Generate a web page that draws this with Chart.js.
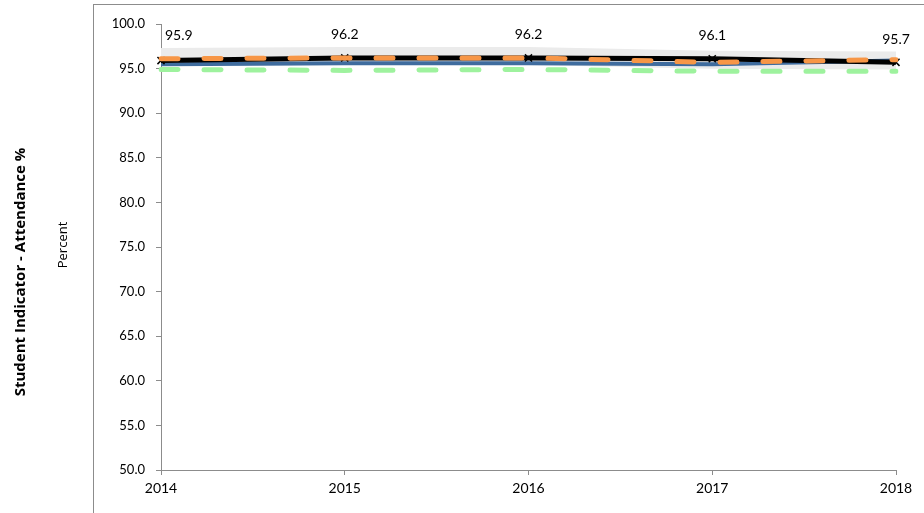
<!DOCTYPE html>
<html>
<head>
<meta charset="utf-8">
<title>Student Indicator - Attendance %</title>
<script src="https://cdn.jsdelivr.net/npm/chart.js@4.4.1/dist/chart.umd.min.js"></script>
<style>
  html, body { margin: 0; padding: 0; background: #ffffff; }
  #wrap { width: 924px; height: 513px; position: relative; }
</style>
</head>
<body>
<div id="wrap"><canvas id="chart" width="924" height="513"></canvas></div>
<script>
// School years on the horizontal axis
const years = ['2014', '2015', '2016', '2017', '2018'];

// Attendance rates (percent)
const schoolRate   = [95.9, 96.2, 96.2, 96.1, 95.7];
const districtRate = [95.5, 95.6, 95.6, 95.5, 95.9];
const rangeBand    = [96.3, 96.4, 96.4, 96.0, 95.9];
const peerRate     = [96.1, 96.2, 96.2, 95.7, 96.0];
const stateRate    = [94.9, 94.8, 94.9, 94.7, 94.7];

// Value axis
const yMin = 50;
const yMax = 100;
const yStep = 5;

const FONT = "Lato, 'Open Sans', 'Liberation Sans', sans-serif";

// Frame, axis titles and value labels for the school line
const decorations = {
  id: 'decorations',
  beforeDraw(chart) {
    const ctx = chart.ctx;
    ctx.save();
    ctx.fillStyle = '#ffffff';
    ctx.fillRect(0, 0, chart.width, chart.height);
    ctx.strokeStyle = '#8c8c8c';
    ctx.lineWidth = 1;
    ctx.strokeRect(93.5, 4.5, 1000, 1000);
    ctx.restore();
  },
  afterDraw(chart) {
    const ctx = chart.ctx;
    ctx.save();
    ctx.fillStyle = '#000000';
    ctx.textAlign = 'center';
    ctx.textBaseline = 'middle';

    ctx.save();
    ctx.translate(21, 272);
    ctx.rotate(-Math.PI / 2);
    ctx.font = "bold 15px 'Open Sans', Lato, sans-serif";
    ctx.fillText('Student Indicator - Attendance %', 0, 0);
    ctx.restore();

    ctx.save();
    ctx.translate(63, 245);
    ctx.rotate(-Math.PI / 2);
    ctx.font = "13px 'Open Sans', Lato, sans-serif";
    ctx.fillText('Percent', 0, 0);
    ctx.restore();

    // value labels above each school point
    const meta = chart.getDatasetMeta(0);
    ctx.font = "14px " + FONT;
    meta.data.forEach((pt, i) => {
      const txt = schoolRate[i].toFixed(1);
      if (i === 0) {
        ctx.textAlign = 'left';
        ctx.fillText(txt, pt.x + 4, pt.y - 25);
      } else {
        ctx.textAlign = 'center';
        ctx.fillText(txt, pt.x, pt.y - 23);
      }
    });
    ctx.restore();
  }
};

new Chart(document.getElementById('chart'), {
  type: 'line',
  data: {
    labels: years,
    datasets: [
      {
        label: 'School',
        data: schoolRate,
        borderColor: '#000000',
        backgroundColor: '#000000',
        borderWidth: 5,
        pointStyle: 'crossRot',
        pointRadius: 5,
        pointBorderWidth: 1.5,
        pointBorderColor: '#000000',
        tension: 0,
        order: 3
      },
      {
        label: 'District',
        data: districtRate,
        borderColor: '#3f6c9e',
        borderWidth: 4,
        pointRadius: 0,
        tension: 0,
        order: 4
      },
      {
        label: 'Range',
        data: rangeBand,
        borderColor: '#ebebeb',
        borderWidth: 18,
        borderCapStyle: 'butt',
        pointRadius: 0,
        tension: 0,
        order: 5
      },
      {
        label: 'Peer',
        data: peerRate,
        borderColor: '#f79646',
        borderWidth: 5,
        borderDash: [17, 26],
        borderCapStyle: 'round',
        pointRadius: 0,
        tension: 0,
        order: 2
      },
      {
        label: 'State',
        data: stateRate,
        borderColor: '#9ef29e',
        borderWidth: 5,
        borderDash: [17, 26],
        borderCapStyle: 'round',
        pointRadius: 0,
        tension: 0,
        order: 1
      }
    ]
  },
  options: {
    responsive: false,
    animation: false,
    devicePixelRatio: 1,
    layout: { padding: { left: 0, top: 24, right: 28, bottom: 0 } },
    plugins: {
      legend: { display: false },
      tooltip: { enabled: false }
    },
    scales: {
      x: {
        type: 'category',
        offset: false,
        afterFit(scale) { scale.height = 43; },
        grid: {
          display: true,
          drawOnChartArea: false,
          drawTicks: true,
          tickLength: 5,
          color: '#8c8c8c'
        },
        border: { display: true, color: '#8c8c8c', width: 1 },
        ticks: {
          color: '#000000',
          font: { family: FONT, size: 14 },
          padding: 5,
          maxRotation: 0,
          autoSkip: false
        }
      },
      y: {
        min: yMin,
        max: yMax,
        afterFit(scale) { scale.width = 161; },
        grid: {
          display: true,
          drawOnChartArea: false,
          drawTicks: true,
          tickLength: 5,
          color: '#8c8c8c'
        },
        border: { display: true, color: '#8c8c8c', width: 1 },
        ticks: {
          stepSize: yStep,
          color: '#000000',
          font: { family: FONT, size: 13 },
          padding: 11,
          callback: (v) => Number(v).toFixed(1)
        }
      }
    }
  },
  plugins: [decorations]
});
</script>
</body>
</html>
